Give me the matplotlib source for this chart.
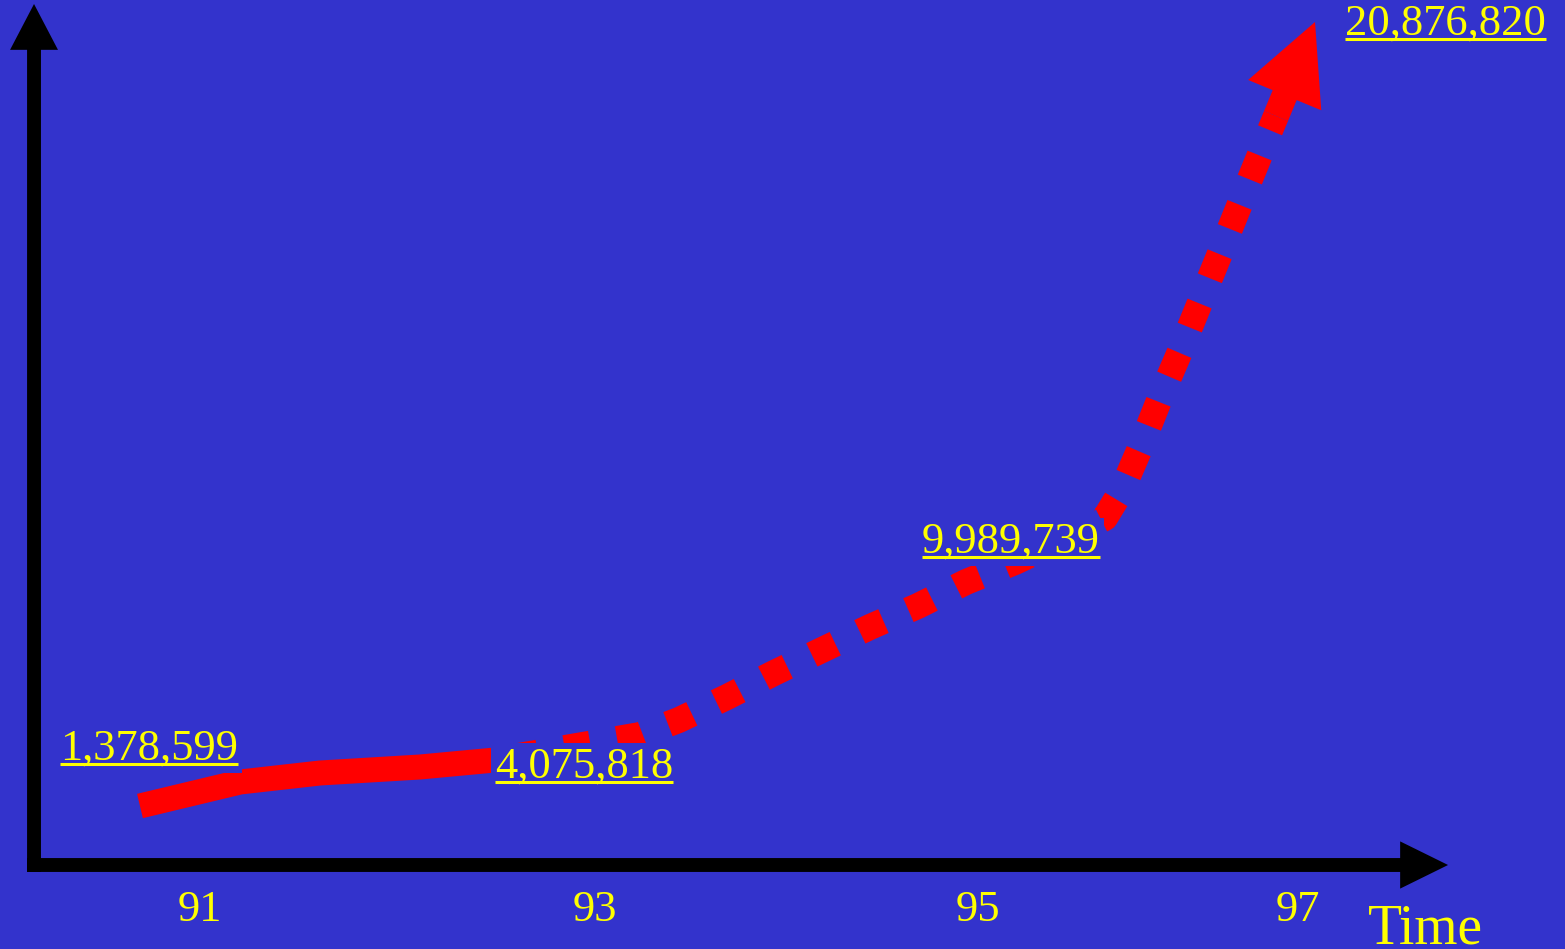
import matplotlib
matplotlib.use('Agg')
import numpy as np
import matplotlib.pyplot as plt

plt.rcParams['font.family'] = ['Liberation Serif', 'DejaVu Serif']

BG = '#3333CC'
RED = '#FF0000'
YEL = '#FFFF00'

# year ticks under the time axis
tick_years = ['91', '93', '95', '97']
tick_pos = [91.0, 93.16, 95.25, 97.0]

# labelled totals and where they sit
totals = [1378599, 4075818, 9989739, 20876820]
label_x = [90.235, 92.612, 94.945, 97.257]
label_y = [2.625, 2.175, 7.8, 20.75]

# trend curve (millions)
solid_years = [90.672, 91.219, 91.656, 92.202, 92.612]
solid_vals = [1.475, 2.075, 2.30, 2.45, 2.625]
dash_years = [92.612, 93.186, 93.404, 93.617, 93.880, 94.137, 94.399, 94.661,
              94.923, 95.186, 95.454, 95.699, 95.945, 96.038, 96.137, 96.246,
              96.361, 96.470, 96.579, 96.689, 96.798, 96.880]
dash_vals = [2.625, 3.075, 3.25, 3.625, 4.2, 4.8, 5.375, 5.95, 6.475, 7.075,
             7.575, 8.1, 8.675, 9.375, 10.425, 11.675, 12.9, 14.125, 15.35,
             16.6, 17.825, 18.725]
tip_year, tip_val = 97.093, 21.075

fig = plt.figure(figsize=(15.65, 9.49), dpi=100, facecolor=BG)
ax = fig.add_axes([0, 0, 1, 1])
ax.set_facecolor(BG)
ax.set_xlim(89.9071, 98.459)
ax.set_ylim(-2.1, 21.625)
ax.axis('off')

# axes arrows
ax.annotate('', xy=(90.093, 21.525), xytext=(90.093, -0.175),
            arrowprops=dict(arrowstyle='simple,head_length=3.3,head_width=3.45,tail_width=1.0',
                            mutation_scale=10, fc='black', ec='none', shrinkA=0, shrinkB=0))
ax.annotate('', xy=(97.82, 0), xytext=(90.055, 0),
            arrowprops=dict(arrowstyle='simple,head_length=3.45,head_width=3.4,tail_width=1.0',
                            mutation_scale=10, fc='black', ec='none', shrinkA=0, shrinkB=0))

# trend: solid then dashed with arrow head
ax.plot(solid_years, solid_vals, color=RED, lw=18, solid_capstyle='butt', zorder=2)
ax.plot(dash_years, dash_vals, color=RED, lw=18.7, ls=(1.38, (1.0, 1.05)),
        dash_capstyle='butt', zorder=2)
ax.annotate('', xy=(tip_year, tip_val), xytext=(dash_years[-1], dash_vals[-1]),
            arrowprops=dict(arrowstyle='simple,head_length=5.7,head_width=5.7,tail_width=1.87',
                            mutation_scale=10, fc=RED, ec='none', shrinkA=0, shrinkB=0),
            zorder=2)

labels = []
for x, y, v in zip(label_x, label_y, totals):
    t = ax.text(x, y, f'{v:,}', fontsize=32, color=YEL, ha='left', va='baseline',
                bbox=dict(boxstyle='square,pad=0.1', fc=BG, ec='none'), zorder=3)
    labels.append(t)

for p, s in zip(tick_pos, tick_years):
    ax.text(p, -1.4, s, fontsize=32, color=YEL, ha='center', va='baseline')
ax.text(97.383, -1.95, 'Time', fontsize=40, color=YEL, ha='left', va='baseline')

# underline the totals
fig.canvas.draw()
r = fig.canvas.get_renderer()
inv = ax.transData.inverted()
for t in labels:
    bb = t.get_window_extent(r)
    base = ax.transData.transform(t.get_position())[1]
    pts = inv.transform([[bb.x0, base - 4], [bb.x1, base - 4]])
    ax.plot(pts[:, 0], pts[:, 1], color=YEL, lw=2.2, solid_capstyle='butt', zorder=4)

fig.savefig('out.png', dpi=100, facecolor=BG)
